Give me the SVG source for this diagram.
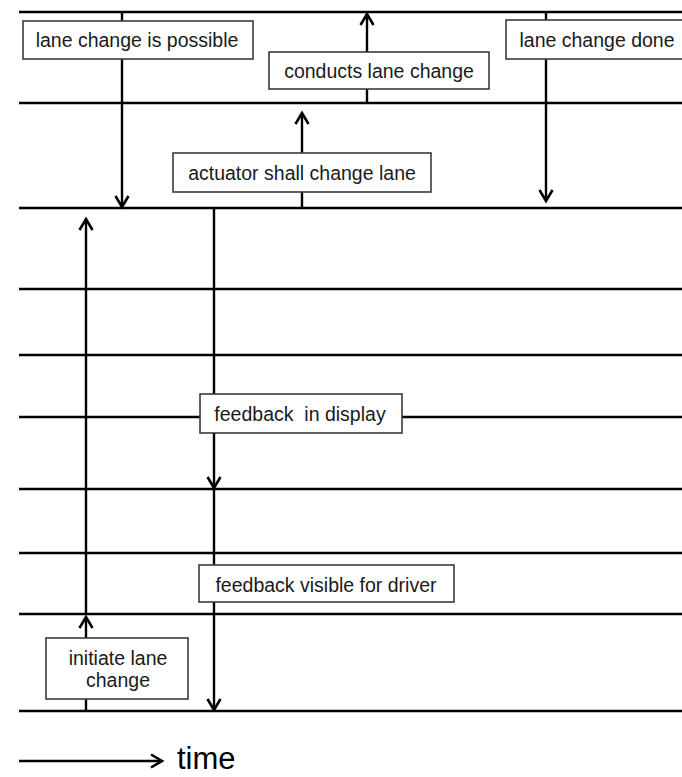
<svg xmlns="http://www.w3.org/2000/svg" width="682" height="777" viewBox="0 0 682 777">
<style>
.h{stroke:#000;stroke-width:2.6;fill:none}
.v{stroke:#000;stroke-width:2.4;fill:none}
.box{fill:#fff;stroke:#3a3a3a;stroke-width:1.6}
.t{font-family:"Liberation Sans",Arial,sans-serif;font-size:19.5px;fill:#1a1a1a;text-anchor:middle}
</style>
<defs>
<marker id="ah" markerWidth="16" markerHeight="16" refX="12" refY="8" orient="auto" markerUnits="userSpaceOnUse">
<path d="M1,1.5 L12,8 L1,14.5" fill="none" stroke="#000" stroke-width="2.6"/>
</marker>
</defs>
<rect width="682" height="777" fill="#fff"/>
<g id="timelines">
<line class="h" x1="19" y1="12" x2="682" y2="12"/>
<line class="h" x1="19" y1="103" x2="682" y2="103"/>
<line class="h" x1="19" y1="208" x2="682" y2="208"/>
<line class="h" x1="19" y1="289" x2="682" y2="289"/>
<line class="h" x1="19" y1="355" x2="682" y2="355"/>
<line class="h" x1="19" y1="417" x2="682" y2="417"/>
<line class="h" x1="19" y1="489" x2="682" y2="489"/>
<line class="h" x1="19" y1="553" x2="682" y2="553"/>
<line class="h" x1="19" y1="614" x2="682" y2="614"/>
<line class="h" x1="19" y1="711" x2="682" y2="711"/>
</g>
<g id="connectors">
<line class="v" x1="122" y1="12" x2="122" y2="207" marker-end="url(#ah)"/>
<line class="v" x1="546" y1="12" x2="546" y2="201" marker-end="url(#ah)"/>
<line class="v" x1="367" y1="103" x2="367" y2="14" marker-end="url(#ah)"/>
<line class="v" x1="302" y1="208" x2="302" y2="113" marker-end="url(#ah)"/>
<line class="v" x1="214" y1="208" x2="214" y2="488" marker-end="url(#ah)"/>
<line class="v" x1="214" y1="489" x2="214" y2="710" marker-end="url(#ah)"/>
<line class="v" x1="86" y1="711" x2="86" y2="617" marker-end="url(#ah)"/>
<line class="v" x1="86" y1="614" x2="86" y2="219" marker-end="url(#ah)"/>
</g>
<g id="n-possible">
<rect class="box" x="23" y="21" width="230" height="38"/>
<text class="t" x="137" y="47">lane change is possible</text>
</g>
<g id="n-conducts">
<rect class="box" x="269" y="52" width="220" height="37"/>
<text class="t" x="379" y="78">conducts lane change</text>
</g>
<g id="n-done">
<rect class="box" x="506" y="20" width="180" height="39"/>
<text class="t" x="597" y="47">lane change done</text>
</g>
<g id="n-actuator">
<rect class="box" x="173" y="153" width="258" height="39"/>
<text class="t" x="302" y="180">actuator shall change lane</text>
</g>
<g id="n-display">
<rect class="box" x="200" y="394" width="202" height="39"/>
<text class="t" x="300" y="421" xml:space="preserve">feedback  in display</text>
</g>
<g id="n-visible">
<rect class="box" x="199" y="565" width="255" height="37"/>
<text class="t" x="326" y="592">feedback visible for driver</text>
</g>
<g id="n-initiate">
<rect class="box" x="46" y="638" width="142" height="61"/>
<text class="t" x="118" y="665">initiate lane</text>
<text class="t" x="118" y="687">change</text>
</g>
<g id="legend">
<line class="h" x1="19" y1="761" x2="162" y2="761" marker-end="url(#ah)"/>
<text x="177" y="769" style="font-family:'Liberation Sans',Arial,sans-serif;font-size:31px;fill:#000">time</text>
</g>
</svg>
